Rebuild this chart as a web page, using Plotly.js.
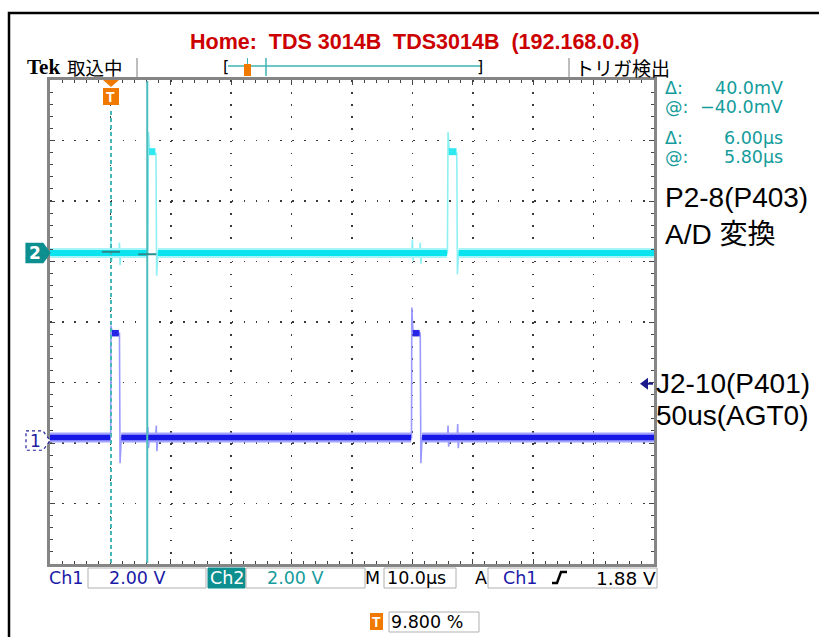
<!DOCTYPE html>
<html>
<head>
<meta charset="utf-8">
<script src="https://cdn.plot.ly/plotly-3.0.1.min.js"></script>
<style>html,body{margin:0;padding:0;background:#fff;}#plot{width:819px;height:637px;}</style>
</head>
<body>
<div id="plot"></div>
<script>
// ---------------- DATA (time in µs from left graticule edge, 10 µs/div; volts, 2 V/div) ----------------
const voltsPerDiv = 2.0;
const ch1Offset = -1.96;   // divisions (ground marker "1")
const ch2Offset = 1.14;    // divisions (ground marker "2")
const triggerLevel = 1.88; // V on Ch1

// Ch2 : P2-8(P403) A/D 変換
const ch2Time  = [0, 10.0, 10.1, 10.2, 10.35, 11.4, 11.5, 11.6, 11.75, 16.2, 16.3, 16.5, 17.4, 17.55, 17.65, 17.85,
                  59.9, 60.0, 60.1, 60.25, 61.2, 61.3, 61.4, 61.55, 65.8, 65.9, 66.1, 67.2, 67.35, 67.45, 67.65, 100];
const ch2Volts = [0, 0, 0.5, -0.25, 0, 0, 0.35, -0.4, 0, 0, 4.0, 3.4, 3.3, 3.3, -0.75, 0,
                  0, 0.45, -0.25, 0, 0, 0.35, -0.35, 0, 0, 4.0, 3.4, 3.3, 3.3, -0.7, 0, 0];
const ch2BandTime  = [0, 16.15, null, 17.85, 65.75, null, 67.65, 100];
const ch2BandVolts = [0, 0, null, 0, 0, null, 0, 0];
const ch2TopTime   = [16.4, 17.45, null, 66.0, 67.3];
const ch2TopVolts  = [3.35, 3.35, null, 3.35, 3.35];

// Ch1 : J2-10(P401) 50us(AGT0)
const ch1Time  = [0, 10.05, 10.1, 10.3, 11.4, 11.5, 11.6, 11.8, 16.1, 16.2, 16.3, 16.45, 17.5, 17.6, 17.7, 17.85,
                  59.85, 59.9, 60.1, 61.2, 61.3, 61.4, 61.6, 65.8, 65.9, 66.0, 66.15, 67.4, 67.5, 67.6, 67.75, 100];
const ch1Volts = [0.1, 0.1, 3.8, 3.55, 3.55, 3.55, -0.75, 0.1, 0.1, 0.45, -0.25, 0.1, 0.1, 0.5, -0.35, 0.1,
                  0.1, 4.4, 3.6, 3.55, 3.55, -0.75, 0.1, 0.1, 0.5, -0.2, 0.1, 0.1, 0.55, -0.25, 0.1, 0.1];
const ch1BandTime  = [0, 10.0, null, 11.8, 59.8, null, 61.6, 100];
const ch1BandVolts = [0.1, 0.1, null, 0.1, 0.1, null, 0.1, 0.1];
const ch1TopTime   = [10.25, 11.4, null, 60.05, 61.2];
const ch1TopVolts  = [3.55, 3.55, null, 3.55, 3.55];

// cursors (µs from left edge)
const cursorTimes = [10.1, 16.1];

// readouts / labels
const titleText = "Home:\u00a0\u00a0TDS 3014B\u00a0\u00a0TDS3014B\u00a0\u00a0(192.168.0.8)";
const readLabels = ["Δ:", "@:", "Δ:", "@:"];
const readValues = ["40.0mV", "\u221240.0mV", "6.00µs", "5.80µs"];
const ch1Scale = "2.00 V", ch2Scale = "2.00 V", timeScale = "10.0µs", trigLevelText = "1.88 V", trigPos = "9.800 %";

// ---------------- helpers ----------------
const W = 819, H = 637;
const PX = x => x / W, PY = y => 1 - y / H;
const toDiv = (vs, off) => vs.map(v => v === null ? null : off + v / voltsPerDiv);

const TEAL = '#149c9c', BLUE = '#1a1aa8', ORANGE = '#f07a00';
const TEK = 'DejaVu Sans, Verdana, sans-serif';

function txt(text, x, y, o) {
  o = o || {};
  return {text: text, xref: 'paper', yref: 'paper', x: PX(x), y: PY(y), showarrow: false,
          xanchor: o.xa || 'left', yanchor: 'middle', borderpad: 0,
          font: {family: o.family || TEK, size: o.size || 17, color: o.color || '#000', weight: o.weight || 'normal'}};
}
function rectPx(x0, y0, x1, y1, o) {
  o = o || {};
  return {type: 'rect', xref: 'paper', yref: 'paper', x0: PX(x0), x1: PX(x1), y0: PY(y1), y1: PY(y0),
          line: {color: o.line || '#b0b0b0', width: o.lw === undefined ? 1 : o.lw}, fillcolor: o.fill || 'rgba(0,0,0,0)', layer: 'above'};
}
function linePx(x0, y0, x1, y1, color, width) {
  return {type: 'line', xref: 'paper', yref: 'paper', x0: PX(x0), x1: PX(x1), y0: PY(y0), y1: PY(y1),
          line: {color: color, width: width}, layer: 'above'};
}

// ---------------- traces ----------------
function band(t, v, off, color, width) {
  return {x: t, y: toDiv(v, off), type: 'scatter', mode: 'lines', connectgaps: false,
          line: {color: color, width: width}, hoverinfo: 'skip', showlegend: false};
}
const traces = [
  band(ch2Time, ch2Volts, ch2Offset, '#8ff0f4', 1.6),
  band(ch2BandTime, ch2BandVolts, ch2Offset, '#a6f5f8', 10),
  band(ch2BandTime, ch2BandVolts, ch2Offset, '#0ae4ee', 6),
  band(ch2TopTime, ch2TopVolts, ch2Offset, '#30e8f0', 7),
  band(ch1Time, ch1Volts, ch1Offset, '#9a9aff', 1.6),
  band(ch1BandTime, ch1BandVolts, ch1Offset, '#a4a4ff', 10),
  band(ch1BandTime, ch1BandVolts, ch1Offset, '#1818e6', 5.5),
  band(ch1TopTime, ch1TopVolts, ch1Offset, '#2626e6', 6.5)
];

// ---------------- shapes ----------------
const shapes = [];
// outer frame
shapes.push({type: 'rect', xref: 'paper', yref: 'paper', x0: PX(9), x1: PX(840), y0: PY(660), y1: PY(13),
             line: {color: '#000', width: 2.5}, layer: 'below'});
// top status bar
shapes.push(linePx(137, 58, 137, 77, '#a8a8a8', 1.5));
shapes.push(linePx(569, 58, 569, 77, '#a8a8a8', 1.5));
shapes.push(linePx(228, 66, 481, 66, '#3cb4b4', 1.5));
shapes.push(linePx(266, 58, 266, 76, '#3cb4b4', 1.5));
shapes.push(rectPx(244, 64, 251, 76, {fill: ORANGE, line: ORANGE, lw: 0}));
shapes.push(linePx(247.5, 58, 247.5, 64, '#3cb4b4', 1));
// trigger position marker on graticule
shapes.push({type: 'path', xref: 'paper', yref: 'paper',
             path: `M${PX(103)},${PY(80)} L${PX(119)},${PY(80)} L${PX(111)},${PY(87)} Z`,
             fillcolor: ORANGE, line: {width: 0}, layer: 'above'});
shapes.push(rectPx(103, 88, 119, 105, {fill: ORANGE, line: ORANGE, lw: 0}));
// cursors
shapes.push({type: 'line', xref: 'x', yref: 'paper', x0: cursorTimes[0], x1: cursorTimes[0], y0: PY(563), y1: PY(108),
             line: {color: '#46b6b6', width: 2, dash: '4px,3px'}, layer: 'above'});
shapes.push({type: 'line', xref: 'x', yref: 'paper', x0: cursorTimes[1], x1: cursorTimes[1], y0: PY(563), y1: PY(81),
             line: {color: '#4cbcbc', width: 2}, layer: 'above'});
cursorTimes.forEach((c, i) => {
  shapes.push({type: 'line', xref: 'x', yref: 'y', x0: c - 1.5, x1: c + 1.5,
               y0: ch2Offset + (i === 0 ? 0.02 : -0.02), y1: ch2Offset + (i === 0 ? 0.02 : -0.02),
               line: {color: '#2a8c8c', width: 2}, layer: 'above'});
});
// channel ground markers
function chMarker(off, fill, lineColor, dash) {
  const h = 0.16;
  return {type: 'path', xref: 'paper', yref: 'y',
          path: `M${PX(26)},${off + h} L${PX(43)},${off + h} L${PX(50)},${off} L${PX(43)},${off - h} L${PX(26)},${off - h} Z`,
          fillcolor: fill, line: {color: lineColor, width: 1.2, dash: dash}, layer: 'above'};
}
shapes.push(chMarker(ch2Offset, '#0e8f8f', '#0e8f8f', 'solid'));
shapes.push(chMarker(ch1Offset, '#ffffff', '#2020a0', 'dot'));
// trigger level arrow (Ch1)
const tl = ch1Offset + triggerLevel / voltsPerDiv;
shapes.push({type: 'path', xref: 'paper', yref: 'y',
             path: `M${PX(640)},${tl} L${PX(648)},${tl + 0.1} L${PX(648)},${tl - 0.1} Z`,
             fillcolor: '#1a1a8c', line: {width: 0}, layer: 'above'});
shapes.push({type: 'line', xref: 'paper', yref: 'y', x0: PX(646), x1: PX(653), y0: tl, y1: tl,
             line: {color: '#1a1a8c', width: 2}, layer: 'above'});
// bottom status boxes
shapes.push(rectPx(88, 568, 206, 588));
shapes.push(rectPx(208, 568, 245, 588, {fill: '#0e8f8f', line: '#0e8f8f'}));
shapes.push(rectPx(246, 568, 365, 588));
shapes.push(rectPx(384, 568, 456, 588));
shapes.push(rectPx(488, 568, 657, 588));
shapes.push({type: 'path', xref: 'paper', yref: 'paper',
             path: `M${PX(552)},${PY(583)} L${PX(557)},${PY(583)} L${PX(561)},${PY(572)} L${PX(567)},${PY(572)}`,
             line: {color: '#000', width: 2.5}, layer: 'above'});
shapes.push(rectPx(370, 613, 383, 630, {fill: ORANGE, line: ORANGE, lw: 0}));
shapes.push(rectPx(389, 612, 479, 632));

// ---------------- annotations ----------------
const ann = [];
ann.push(txt(titleText, 414, 42, {xa: 'center', family: 'Liberation Sans, Arial, sans-serif', size: 21.5, color: '#cc0000', weight: 'bold'}));
ann.push(txt('Tek', 26, 67, {family: 'Liberation Serif, Times New Roman, serif', size: 21, weight: 'bold'}));
ann.push(txt('取込中', 66, 67, {family: 'Noto Sans CJK JP, sans-serif', size: 18.5}));
ann.push(txt('[', 222, 66, {family: 'DejaVu Sans', size: 16}));
ann.push(txt(']', 476, 66, {family: 'DejaVu Sans', size: 16}));
ann.push(txt('トリガ検出', 574, 67, {family: 'Noto Sans CJK JP, sans-serif', size: 19}));
ann.push(txt('T', 111, 97, {xa: 'center', family: 'Liberation Sans, Arial', size: 14, color: '#fff', weight: 'bold'}));
const readY = [88.5, 107.5, 137.5, 156.5];
readLabels.forEach((l, i) => {
  ann.push(txt(l, 664, readY[i], {color: TEAL, size: 17.5}));
  ann.push(txt(readValues[i], 784, readY[i], {xa: 'right', color: TEAL, size: 17.5}));
});
const ARIAL = 'Liberation Sans, Arial, sans-serif';
ann.push(txt('P2-8(P403)', 664, 197, {family: ARIAL, size: 28}));
ann.push(txt('A/D 変換', 664, 235, {family: 'Liberation Sans, Noto Sans CJK JP, sans-serif', size: 28}));
ann.push(txt('J2-10(P401)', 655, 383, {family: ARIAL, size: 28}));
ann.push(txt('50us(AGT0)', 655, 415, {family: ARIAL, size: 28}));
ann.push(txt('2', 35, 0, {xa: 'center', size: 17, color: '#fff', weight: 'bold'}));
ann.at(-1).yref = 'y'; ann.at(-1).y = ch2Offset;
ann.push(txt('1', 35, 0, {xa: 'center', size: 17, color: '#2020a0'}));
ann.at(-1).yref = 'y'; ann.at(-1).y = ch1Offset;
// bottom status
ann.push(txt('Ch1', 48, 578, {color: BLUE, size: 17.5}));
ann.push(txt(ch1Scale, 108, 578, {color: BLUE, size: 17.5}));
ann.push(txt('Ch2', 226.5, 578, {xa: 'center', color: '#fff', size: 17.5}));
ann.push(txt(ch2Scale, 266, 578, {color: TEAL, size: 17.5}));
ann.push(txt('M', 364, 578, {size: 17.5}));
ann.push(txt(timeScale, 386, 578, {size: 17.5}));
ann.push(txt('A', 474, 578, {size: 17.5}));
ann.push(txt('Ch1', 502, 578, {color: BLUE, size: 17.5}));
ann.push(txt(trigLevelText, 657, 578, {xa: 'right', size: 18.5}));
ann.push(txt('T', 376.5, 622, {xa: 'center', family: 'Liberation Sans, Arial', size: 14, color: '#fff', weight: 'bold'}));
ann.push(txt(trigPos, 390, 622, {size: 17.5}));

// ---------------- layout ----------------
const axisCommon = {
  showgrid: true, gridcolor: '#3a3a3a', gridwidth: 1.6, griddash: '1.6px,10.5px',
  ticks: 'inside', ticklen: 5, tickwidth: 1, tickcolor: '#444',
  showline: true, linecolor: '#858585', linewidth: 3, mirror: 'allticks',
  showticklabels: false, zeroline: false, fixedrange: true
};
const layout = {
  width: W, height: H, margin: {l: 0, r: 0, t: 0, b: 0},
  paper_bgcolor: '#fff', plot_bgcolor: '#fff', showlegend: false,
  xaxis: Object.assign({}, axisCommon, {range: [0, 100], domain: [PX(50), PX(654)], tick0: 0, dtick: 10,
          minor: {dtick: 2, ticks: 'inside', ticklen: 3, tickcolor: '#444', showgrid: false}}),
  yaxis: Object.assign({}, axisCommon, {range: [-4, 4], domain: [PY(564), PY(80)], tick0: 0, dtick: 1,
          minor: {dtick: 0.2, ticks: 'inside', ticklen: 3, tickcolor: '#444', showgrid: false}}),
  shapes: shapes, annotations: ann
};
Plotly.newPlot('plot', traces, layout, {displayModeBar: false, staticPlot: true});
</script>
</body>
</html>
